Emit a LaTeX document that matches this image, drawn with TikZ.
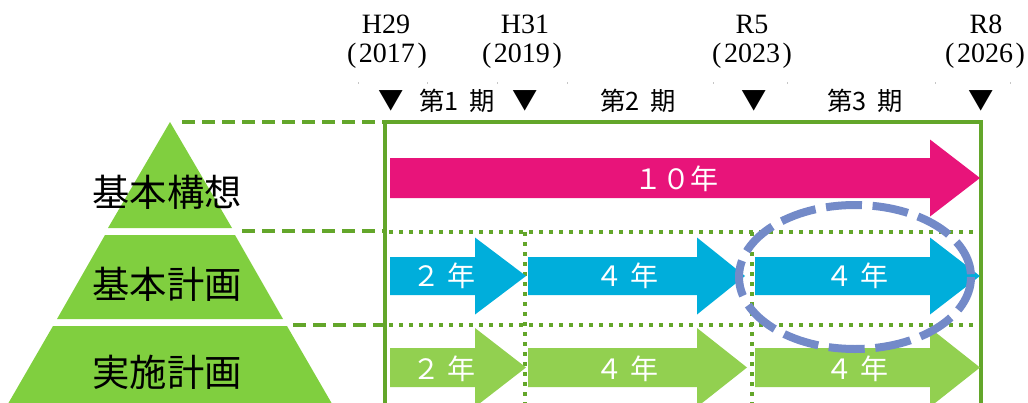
\documentclass[tikz,border=0pt]{standalone}
\usepackage{fontspec}
\newfontfamily\jp{Noto Sans CJK JP}
\newfontfamily\ser{Liberation Serif}
\definecolor{pyr}{RGB}{128,207,63}
\definecolor{frm}{RGB}{99,166,42}
\definecolor{pinkc}{RGB}{232,20,122}
\definecolor{blu}{RGB}{0,174,219}
\definecolor{lgr}{RGB}{146,208,80}
\definecolor{ellc}{RGB}{115,138,200}
% color, x start, x head base, x tip, y centre, body half, head half
\newcommand\hbarrow[7]{%
  \fill[#1] (#2,#5-#6) -- (#3,#5-#6) -- (#3,#5-#7) -- (#4,#5) -- (#3,#5+#7) -- (#3,#5+#6) -- (#2,#5+#6) -- cycle;}
\tikzset{
  big/.style={font=\jp\fontsize{28}{28}\selectfont, text=black, inner sep=0pt},
  yr/.style={font=\ser\fontsize{21}{21}\selectfont, inner sep=0pt},
  per/.style={font=\jp\fontsize{19}{19}\selectfont, inner sep=0pt},
  awt/.style={font=\jp\fontsize{21}{21}\selectfont, text=white, inner sep=0pt},
  outdash/.style={frm, line width=2.6pt, dash pattern=on 10pt off 5pt},
  indot/.style={frm, line width=3pt, dash pattern=on 3pt off 4.5pt},
  framel/.style={frm, line width=3pt},
}
\begin{document}
\begin{tikzpicture}[x=0.75pt,y=-0.75pt]
\useasboundingbox (0,0) rectangle (1028,403);
% pyramid
\fill[pyr] (170,122) -- (232,228) -- (108,228) -- cycle;
\fill[pyr] (105,235) -- (235,235) -- (283,319) -- (57,319) -- cycle;
\fill[pyr] (53,326) -- (287,326) -- (335,409) -- (5,409) -- cycle;
\node[big] (kk) at (167,192) {基本構想};
\node[big] (kp) at (167,284) {基本計画};
\node[big] (jp) at (167,372) {実施計画};
% dashed guide lines
\draw[outdash] (182,122) -- (383,122);
\draw[outdash] (242,231) -- (385,231);
\draw[outdash] (293,325) -- (385,325);
% dotted grid
\draw[indot] (389,232) -- (978,232);
\draw[indot] (389,325) -- (978,325);
\draw[indot] (525,232) -- (525,408);
\draw[indot] (752,232) -- (752,408);
% frame
\draw[framel] (385,408) -- (385,122) -- (981,122) -- (981,408);
% arrows
\hbarrow{pinkc}{390}{930}{980}{178}{20}{38.5}
\node[awt] (t10) at (676,179) {１０年};
\hbarrow{blu}{390}{475}{526}{276}{19}{38.5}
\hbarrow{blu}{528}{697}{745}{276}{19}{38.5}
\hbarrow{blu}{755}{930}{980}{276}{19}{38.5}
\node[awt] (b1) at (444,276) {２ 年};
\node[awt] (b2) at (627,276) {４ 年};
\node[awt] (b3) at (857,276) {４ 年};
\hbarrow{lgr}{390}{475}{526}{367.5}{19.5}{39.5}
\hbarrow{lgr}{528}{697}{747}{367.5}{19.5}{39.5}
\hbarrow{lgr}{755}{930}{980}{367.5}{19.5}{39.5}
\node[awt] (g1) at (444,369) {２ 年};
\node[awt] (g2) at (627,369) {４ 年};
\node[awt] (g3) at (857,369) {４ 年};
% highlight ellipse
\draw[ellc, line width=6pt, dash pattern=on 27pt off 8pt] (855,277) ellipse [x radius=116, y radius=72];
% top year labels
\node[yr] (h29) at (386,24) {H29};
\node[yr] (y17) at (387,56) {(\hspace{2pt}2017\hspace{2pt})};
\node[yr] (h31) at (525,24) {H31};
\node[yr] (y19) at (522,56) {(\hspace{2pt}2019\hspace{2pt})};
\node[yr] (r5) at (752,24) {R5};
\node[yr] (y23) at (752,56) {(\hspace{2pt}2023\hspace{2pt})};
\node[yr] (r8) at (986,24) {R8};
\node[yr] (y26) at (985,56) {(\hspace{2pt}2026\hspace{2pt})};
% faint specks
\foreach \sx in {358,427,497,567,713,787,935,1010}
  \fill[gray!45] (\sx,82) rectangle ++(1.2,2);
% period row
\node[per] (m1) at (391,101) {▼};
\node[per] (p1) at (457,101) {第1\hspace{0.4em}期};
\node[per] (m2) at (525,101) {▼};
\node[per] (p2) at (638,101) {第2\hspace{0.4em}期};
\node[per] (m3) at (754,101) {▼};
\node[per] (p3) at (865,101) {第3\hspace{0.4em}期};
\node[per] (m4) at (981,101) {▼};
\end{tikzpicture}
\end{document}
